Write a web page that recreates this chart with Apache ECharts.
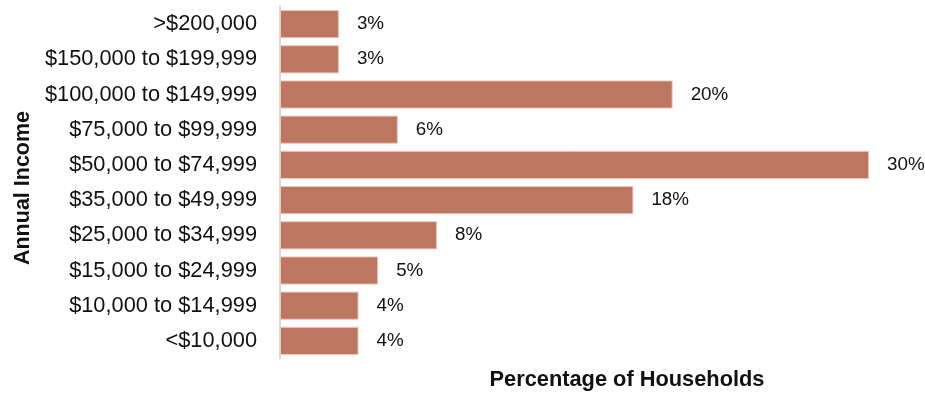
<!DOCTYPE html>
<html>
<head>
<meta charset="utf-8">
<script src="https://cdn.jsdelivr.net/npm/echarts@6/dist/echarts.min.js"></script>
<style>
  html, body { margin: 0; padding: 0; background: #fff; }
  #chart { width: 925px; height: 394px; }
</style>
</head>
<body>
<div id="chart"></div>
<script>
// Income brackets, listed top to bottom
const incomeBrackets = [
  '>$200,000',
  '$150,000 to $199,999',
  '$100,000 to $149,999',
  '$75,000 to $99,999',
  '$50,000 to $74,999',
  '$35,000 to $49,999',
  '$25,000 to $34,999',
  '$15,000 to $24,999',
  '$10,000 to $14,999',
  '<$10,000'
];

// Share of households in each bracket (%)
const householdShare = [3, 3, 20, 6, 30, 18, 8, 5, 4, 4];

const xAxisTitle = 'Percentage of Households';
const yAxisTitle = 'Annual Income';

const chart = echarts.init(document.getElementById('chart'), null, { renderer: 'canvas' });

const FONT = '"Liberation Sans", Arial, sans-serif';

chart.setOption({
  animation: false,
  backgroundColor: '#ffffff',
  grid: { left: 280, right: 56, top: 6.5, bottom: 35.5, containLabel: false },
  xAxis: {
    type: 'value',
    min: 0,
    max: 30,
    show: false
  },
  yAxis: {
    type: 'category',
    data: incomeBrackets,
    inverse: true,
    axisLine: { show: true, lineStyle: { color: '#d9d9d9', width: 2 } },
    axisTick: { show: false },
    splitLine: { show: false },
    axisLabel: {
      color: '#111111',
      fontFamily: FONT,
      fontSize: 21.8,
      margin: 23
    }
  },
  series: [{
    type: 'bar',
    data: householdShare,
    barCategoryGap: '20%',
    itemStyle: {
      color: '#bd7660',
      borderColor: '#e9c9be',
      borderWidth: 1
    },
    label: {
      show: true,
      position: 'right',
      distance: 18,
      color: '#111111',
      fontFamily: FONT,
      fontSize: 18.8,
      formatter: p => p.value + '%'
    }
  }],
  graphic: [
    {
      type: 'text',
      x: 627,
      y: 380,
      style: {
        text: xAxisTitle,
        fill: '#111111',
        font: 'bold 21.8px ' + FONT,
        textAlign: 'center',
        textVerticalAlign: 'middle'
      }
    },
    {
      type: 'text',
      x: 23,
      y: 188,
      rotation: Math.PI / 2,
      style: {
        text: yAxisTitle,
        fill: '#111111',
        font: 'bold 21.5px ' + FONT,
        textAlign: 'center',
        textVerticalAlign: 'middle'
      }
    }
  ]
});
</script>
</body>
</html>
